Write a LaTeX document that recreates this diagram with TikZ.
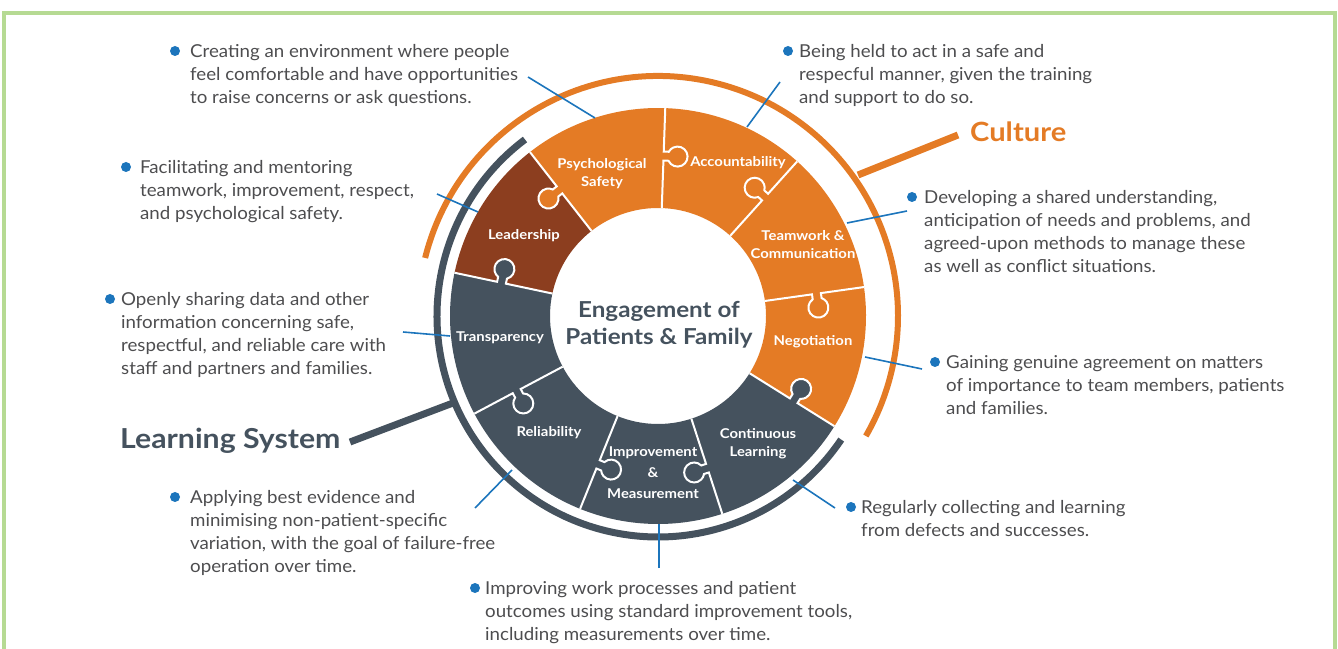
\documentclass[tikz,border=0pt]{standalone}
\usepackage{fontspec}
\setmainfont{Lato}
\newfontfamily\bodyf[FakeStretch=1.05]{Lato}
\newfontfamily\boldf[FakeStretch=1.1]{Lato Bold}
\usetikzlibrary{calc}
\definecolor{corange}{HTML}{E47B25}
\definecolor{cbrown}{HTML}{8C3E1F}
\definecolor{cslate}{HTML}{45525E}
\definecolor{cblue}{HTML}{1C75BC}
\definecolor{ctext}{HTML}{4D4D4F}
\definecolor{cgreen}{HTML}{B6DA93}
\tikzset{
  seam/.style={draw=white, line width=2pt},
  lead/.style={draw=cblue, line width=1.6pt},
  bullet/.style={circle, fill=cblue, minimum size=10pt, inner sep=0pt},
  txt/.style={anchor=base west, inner sep=0pt, text=ctext, font=\bodyf\fontsize{17.8}{23}\selectfont},
  seg/.style={text=white, align=center, inner sep=0pt, font=\boldf\fontsize{13.5}{18}\selectfont},
}
\begin{document}
\begin{tikzpicture}[x=1pt,y=1pt]
\useasboundingbox (0,0) rectangle (1338,648);
\coordinate (C) at (658,332);
% green frame
\draw[cgreen, line width=3.5pt] (4,-10) -- (4,635) -- (1335,635) -- (1335,-10);
% sectors
\begin{scope}[shift={(C)}]
\foreach \a/\col in {48/corange, 8/corange, -32/corange, -72/cslate, -112/cslate, -152/cslate, 168/cslate, 128/cbrown, 88/corange} {
  \pgfmathsetmacro\b{\a+40}
  \fill[\col] (\a:208) arc[start angle=\a, end angle=\b, radius=208pt] -- (\b:108) arc[start angle=\b, end angle=\a, radius=108pt] -- cycle;
}
\end{scope}
% puzzle knobs and seams
\foreach \a/\s/\col in {88/-1/corange, 128/1/corange, 168/-1/cslate, 208/1/cslate, 248/1/cslate, 288/-1/cslate, 328/1/cslate, 8/-1/corange, 48/1/corange} {
  \begin{scope}[shift={(C)}, rotate=\a, yscale=\s]
    \fill[\col] (155.5,-1.2) -- (155.5,5.07) arc[start angle=243.26, end angle=-63.26, radius=10pt] -- (164.5,-1.2) -- cycle;
    \draw[seam] (108,0) -- (155.5,0) -- (155.5,5.07) arc[start angle=243.26, end angle=-63.26, radius=10pt] -- (164.5,0) -- (208,0);
  \end{scope}
}
% outer arcs
\coordinate (ds) at ($(C)+(127:221)$);
\coordinate (os) at ($(C)+(166:240)$);
\draw[cslate, line width=7pt] (ds) arc[start angle=127, end angle=326, radius=221pt];
\draw[corange, line width=6pt] (os) arc[start angle=166, end angle=-30, radius=240pt];
% group labels
\coordinate (cu1) at (858,473);
\node[anchor=base west, inner sep=0pt, text=corange, font=\boldf\fontsize{26.5}{30}\selectfont] (culture) at (970,506) {Culture};
\coordinate (cu2) at (958,513);
\draw[corange, line width=7pt] (cu1) -- (cu2);
\coordinate (ls1) at (453,245);
\node[anchor=base west, inner sep=0pt, text=cslate, font=\boldf\fontsize{27.5}{32}\selectfont] (learning) at (120,199) {Learning System};
\coordinate (ls2) at (350,206);
\draw[cslate, line width=7pt] (ls1) -- (ls2);
% center text
\node[align=center, inner sep=0pt, text=cslate, font=\boldf\fontsize{22}{27}\selectfont] (center) at (659,323) {Engagement of\\Patients \& Family};
% segment labels
\node[seg] (psy) at (602,474) {Psychological\\Safety};
\node[seg] (acc) at (738,485) {Accountability};
\node[seg] (team) at (803,403.5) {Teamwork \&\\Communication};
\node[seg] (lead) at (524,412) {Leadership};
\node[seg] (tra) at (500,310) {Transparency};
\node[seg] (neg) at (813,306) {Negotiation};
\node[seg] (rel) at (549,215) {Reliability};
\node[seg, font=\boldf\fontsize{13.5}{21}\selectfont] (imp) at (653,175) {Improvement\\\&\\Measurement};
\node[seg] (con) at (758,204) {Continuous\\Learning};
% leader lines
\coordinate (l1a) at (528,571); \coordinate (l1b) at (595,530);
\coordinate (l2a) at (437,454); \coordinate (l2b) at (478,436);
\coordinate (l3a) at (403,316); \coordinate (l3b) at (450,312);
\coordinate (l4a) at (475,140); \coordinate (l4b) at (512,178);
\coordinate (l5a) at (659,80);  \coordinate (l5b) at (659,124);
\coordinate (l6a) at (835,140); \coordinate (l6b) at (793,168);
\coordinate (l7a) at (922,279); \coordinate (l7b) at (865,291);
\coordinate (l8a) at (907,437); \coordinate (l8b) at (847,425);
\coordinate (l9a) at (780,566); \coordinate (l9b) at (747,521);
\foreach \i in {1,...,9} { \draw[lead] (l\i a) -- (l\i b); }
% bullets and texts
\node[bullet] (b1) at (175,597) {};
\node[txt] (t1) at (190,590.5) {\vtop{\hbox{Creating an environment where people}\hbox{feel comfortable and have opportunities}\hbox{to raise concerns or ask questions.}}};
\node[bullet] (b2) at (126,481) {};
\node[txt] (t2) at (140,474.5) {\vtop{\hbox{Facilitating and mentoring}\hbox{teamwork, improvement, respect,}\hbox{and psychological safety.}}};
\node[bullet] (b3) at (110,349) {};
\node[txt] (t3) at (121,342.5) {\vtop{\hbox{Openly sharing data and other}\hbox{information concerning safe,}\hbox{respectful, and reliable care with}\hbox{staff and partners and families.}}};
\node[bullet] (b4) at (175,151) {};
\node[txt] (t4) at (190,144.5) {\vtop{\hbox{Applying best evidence and}\hbox{minimising non-patient-specific}\hbox{variation, with the goal of failure-free}\hbox{operation over time.}}};
\node[bullet] (b5) at (475,60) {};
\node[txt] (t5) at (485,53.5) {\vtop{\hbox{Improving work processes and patient}\hbox{outcomes using standard improvement tools,}\hbox{including measurements over time.}}};
\node[bullet] (b6) at (851,141) {};
\node[txt] (t6) at (861,134.5) {\vtop{\hbox{Regularly collecting and learning}\hbox{from defects and successes.}}};
\node[bullet] (b7) at (935,286) {};
\node[txt] (t7) at (946,279.5) {\vtop{\hbox{Gaining genuine agreement on matters}\hbox{of importance to team members, patients}\hbox{and families.}}};
\node[bullet] (b8) at (912,451) {};
\node[txt] (t8) at (924,444.5) {\vtop{\hbox{Developing a shared understanding,}\hbox{anticipation of needs and problems, and}\hbox{agreed-upon methods to manage these}\hbox{as well as conflict situations.}}};
\node[bullet] (b9) at (788,597) {};
\node[txt] (t9) at (799,590.5) {\vtop{\hbox{Being held to act in a safe and}\hbox{respecful manner, given the training}\hbox{and support to do so.}}};
\end{tikzpicture}
\end{document}
